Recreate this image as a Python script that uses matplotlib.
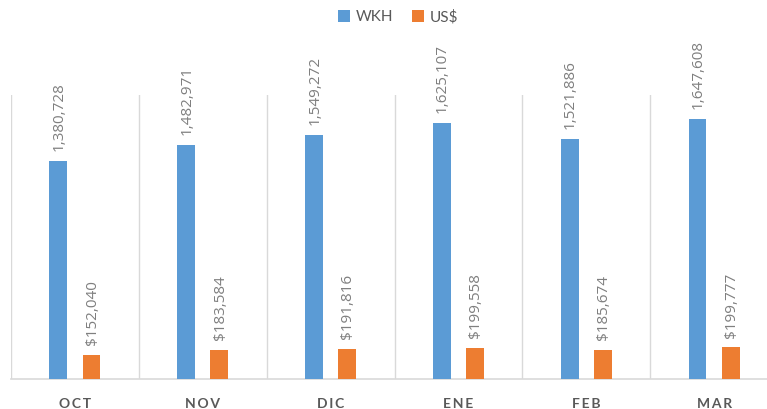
import matplotlib.pyplot as plt
import numpy as np

# monthly values
months = ["OCT", "NOV", "DIC", "ENE", "FEB", "MAR"]
wkh = [1380728, 1482971, 1549272, 1625107, 1521886, 1647608]
usd = [152040, 183584, 191816, 199558, 185674, 199777]

BLUE = "#5B9BD5"
ORANGE = "#ED7D31"
GRID = "#D9D9D9"
TEXT = "#595959"
LABEL = "#7F7F7F"

plt.rcParams['font.family'] = ['Lato', 'DejaVu Sans']

fig = plt.figure(figsize=(7.67, 4.09), dpi=100)
# plot area runs off the right edge, like the reference crop
ax = fig.add_axes([11 / 767, 1 - 379 / 409, 767 / 767, 284 / 409])

x = np.arange(len(months))
w = 0.14
off = 0.13
b1 = ax.bar(x - off, wkh, w, color=BLUE, label="WKH", zorder=3)
b2 = ax.bar(x + off, usd, w, color=ORANGE, label="US$", zorder=3)

for bars, vals, fmt in [(b1, wkh, "{:,}"), (b2, usd, "${:,}")]:
    for rect, v in zip(bars, vals):
        ax.annotate(fmt.format(v), (rect.get_x() + rect.get_width() / 2, v),
                    xytext=(0.5, 7), textcoords="offset points",
                    rotation=90, ha="center", va="bottom",
                    fontsize=11, color=LABEL, family=["Open Sans", "DejaVu Sans"])

ax.set_xlim(-0.5, len(months) - 0.5)
ax.set_ylim(0, 1.8e6)

# vertical lines between categories
for b in np.arange(-0.5, len(months), 1.0):
    ax.axvline(b, color=GRID, lw=1, zorder=1)

for s in ["top", "right", "left"]:
    ax.spines[s].set_visible(False)
ax.spines["bottom"].set_color(GRID)
ax.spines["bottom"].set_linewidth(1.2)

ax.set_yticks([])
ax.set_xticks(x)
ax.set_xticklabels(["\u2009".join(m) for m in months], fontsize=10,
                   fontweight="bold", color=TEXT)
ax.tick_params(axis="x", length=0, pad=14)

fig.legend(loc="upper center", bbox_to_anchor=(0.519, 1.01), ncol=2,
           frameon=False, fontsize=11, labelcolor=TEXT,
           handlelength=0.8, handleheight=0.8, handletextpad=0.4,
           columnspacing=1.2)

fig.savefig("out.png", dpi=100)
